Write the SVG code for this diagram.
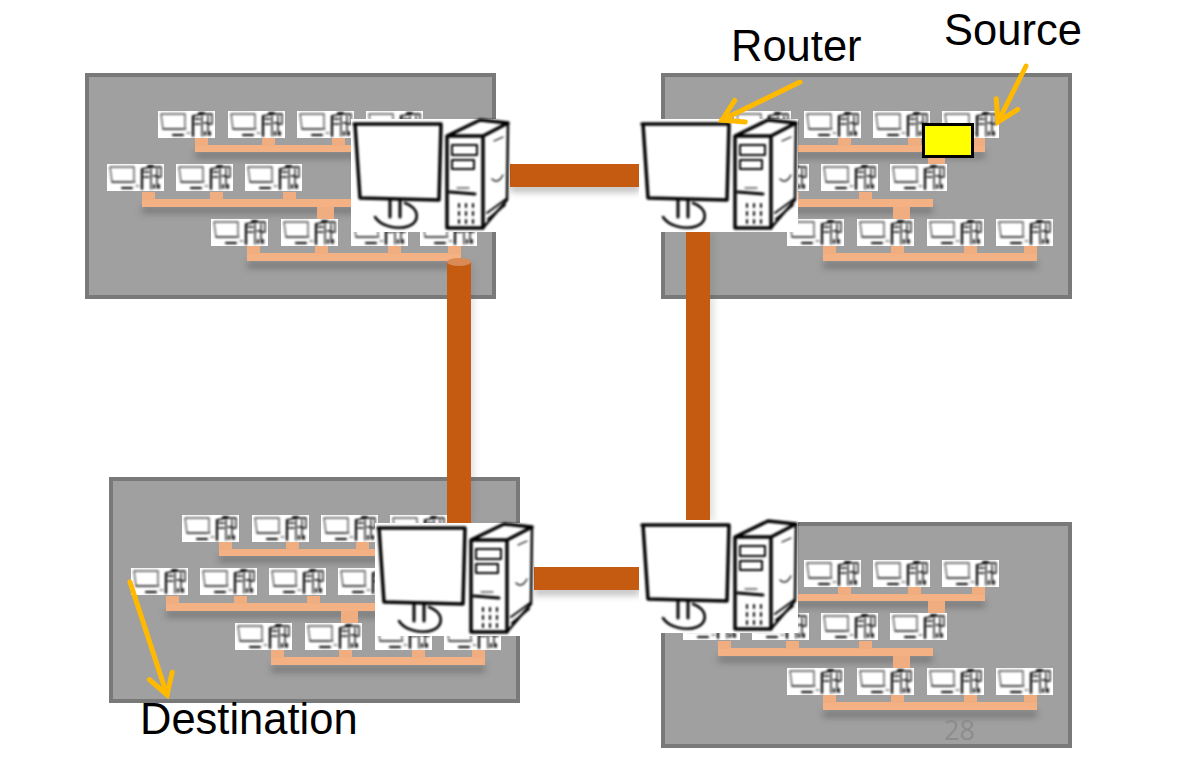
<svg xmlns="http://www.w3.org/2000/svg" xmlns:xlink="http://www.w3.org/1999/xlink" width="1178" height="778" viewBox="0 0 1178 778">
<style>
text{font-family:"Liberation Sans",Arial,sans-serif;font-size:43.500px;fill:#000}
.panel{fill:#a0a0a0;stroke:#797979;stroke-width:4}
.bar{fill:#f4b183}
.stub{fill:#f0ad80}
.trunk{fill:#c55a11}
.ink{fill:none;stroke:#000;stroke-linecap:round;stroke-linejoin:round}
.arrow{fill:none;stroke:#ffba00;stroke-width:5;stroke-linecap:round;marker-end:url(#head)}
</style>
<defs>
<filter id="shadow" x="-10%" y="-150%" width="120%" height="400%"><feGaussianBlur stdDeviation="3.500"/></filter>
<filter id="vshadow" x="-300%" y="-5%" width="700%" height="110%"><feGaussianBlur stdDeviation="4"/></filter>
<filter id="soft" x="-5%" y="-5%" width="110%" height="110%"><feGaussianBlur stdDeviation="0.800"/></filter>
<marker id="head" markerUnits="userSpaceOnUse" markerWidth="40" markerHeight="40" refX="24" refY="20" orient="auto" viewBox="0 0 40 40"><path d="M4 8L24 20L4 32" fill="none" stroke="#ffba00" stroke-width="5" stroke-linecap="round"/></marker>
<g id="pc">
<rect width="57" height="27" fill="#fff"/>
<g filter="url(#soft)">
<path class="ink" stroke-width="1.300" opacity=".7" d="M3 3H27M3 3L5 18H25M27 3V18"/>
<path class="ink" stroke-width="2.200" d="M15 24H25"/>
<path class="ink" stroke-width="1.200" opacity=".8" d="M29 22H32M5 18H28"/>
<path class="ink" stroke-width="2.200" d="M35 5V25"/>
<path class="ink" stroke-width="1.300" d="M35 5L44 3H54M44 5V25M50 5V24M54 3V13M50 13H54M46 12H49M37 8H42M37 13H42"/>
<path class="ink" stroke-width="1.800" d="M41 2H46M47 21V24M52 21V24"/>
</g>
</g>
<g id="lan-contents">
<rect x="195" y="152" width="214" height="6" fill="#444" opacity=".5" filter="url(#shadow)"/>
<rect x="142" y="207" width="215" height="6" fill="#444" opacity=".5" filter="url(#shadow)"/>
<rect x="247" y="262" width="214" height="6" fill="#444" opacity=".5" filter="url(#shadow)"/>
<rect class="bar" x="195" y="145" width="214" height="7"/>
<rect class="stub" x="195" y="138" width="13" height="8"/><rect class="stub" x="262" y="138" width="13" height="8"/><rect class="stub" x="332" y="138" width="13" height="8"/><rect class="stub" x="396" y="138" width="13" height="8"/>
<rect class="stub" x="352" y="152" width="17" height="12"/>
<rect class="bar" x="142" y="199" width="215" height="8"/>
<rect class="stub" x="142" y="192" width="13" height="8"/><rect class="stub" x="210" y="192" width="13" height="8"/><rect class="stub" x="283" y="192" width="13" height="8"/>
<rect class="stub" x="317" y="207" width="17" height="12"/>
<rect class="bar" x="247" y="253" width="214" height="8"/>
<rect class="stub" x="247" y="246" width="13" height="8"/><rect class="stub" x="315" y="246" width="13" height="8"/><rect class="stub" x="388" y="246" width="13" height="8"/><rect class="stub" x="448" y="246" width="13" height="8"/>
<use href="#pc" x="158" y="111"/><use href="#pc" x="228" y="111"/><use href="#pc" x="297" y="111"/><use href="#pc" x="366" y="111"/>
<use href="#pc" x="107" y="164"/><use href="#pc" x="176" y="164"/><use href="#pc" x="245" y="164"/>
<use href="#pc" x="211" y="219"/><use href="#pc" x="281" y="219"/><use href="#pc" x="351" y="219"/><use href="#pc" x="420" y="219"/>
</g>
<g id="router-art">
<rect width="159" height="113" fill="#fff"/>
<g filter="url(#soft)">
<path class="ink" stroke-width="3.500" d="M3 5H90M4 5L9 79L88 81M90 5L88 81"/>
<path class="ink" stroke-width="3" d="M39 82V98M49 81V98"/>
<path class="ink" stroke-width="2.600" d="M24 98C30 108 48 111 58 107C68 103 70 90 54 84"/>
<path class="ink" stroke-width="3.500" d="M96 17L129 1L157 4L132 17ZM96 17V109H132M132 17V109"/>
<path class="ink" stroke-width="2.500" d="M157 4L156 81L132 109"/>
<path class="ink" stroke-width="2" d="M101 26H126V36H101ZM101 41H123V50H101Z"/>
<path class="ink" stroke-width="3" d="M99 73L124 75"/>
<path class="ink" stroke-width="1.200" d="M106 69H118M143 22L152 18M141 60C146 65 150 60 152 56"/>
<path class="ink" stroke-width="2" d="M136 94L155 80M137 100L154 86M108 85V88M115 85V88M122 85V88M108 93V96M115 93V96M122 93V96M108 101V104M115 101V104M122 101V104"/>
</g>
</g>
</defs>
<g id="lan-top-left"><rect class="panel" x="87" y="75" width="407" height="222"/><use href="#lan-contents"/></g>
<g id="lan-top-right"><rect class="panel" x="663" y="75" width="407" height="222"/><use href="#lan-contents" x="576"/><use href="#pc" x="890" y="164"/></g>
<g id="lan-bottom-left"><rect class="panel" x="111" y="479" width="407" height="222"/><use href="#lan-contents" x="24" y="404"/><use href="#pc" x="338" y="568"/></g>
<g id="lan-bottom-right"><rect class="panel" x="663" y="524" width="407" height="222"/><use href="#lan-contents" x="576" y="449"/><use href="#pc" x="890" y="613"/></g>
<g id="connectors">
<rect x="510" y="184" width="130" height="8" fill="#555" opacity=".4" filter="url(#shadow)"/>
<rect x="534" y="587" width="106" height="8" fill="#555" opacity=".4" filter="url(#shadow)"/>
<rect x="466" y="262" width="6" height="262" fill="#555" opacity=".3" filter="url(#vshadow)"/>
<rect x="706" y="232" width="6" height="290" fill="#555" opacity=".3" filter="url(#vshadow)"/>
<rect class="trunk" x="510" y="164" width="130" height="23"/>
<rect class="trunk" x="534" y="567" width="106" height="23"/>
<rect class="trunk" x="447" y="262" width="24" height="262"/>
<ellipse cx="459" cy="262" rx="12" ry="4" fill="#d98a55"/>
<rect class="trunk" x="686" y="230" width="24" height="292"/>
</g>
<use id="router-top-left" href="#router-art" x="351" y="119"/>
<use id="router-top-right" href="#router-art" x="639" y="119"/>
<use id="router-bottom-left" href="#router-art" x="375" y="523"/>
<use id="router-bottom-right" href="#router-art" x="639" y="520"/>
<g id="source-packet"><rect x="928" y="156" width="17" height="8" fill="#f0ad80"/><rect x="923.500" y="124.500" width="49" height="32" fill="#ff0" stroke="#000" stroke-width="3"/></g>
<g id="annotations">
<path class="arrow" d="M800 82L722 120"/>
<path class="arrow" d="M1026 66L998 122"/>
<path class="arrow" d="M130 582L167 695"/>
<text x="731" y="61">Router</text>
<text x="944" y="45">Source</text>
<text x="140" y="734">Destination</text>
<text x="944" y="740" style="font-family:'Open Sans',sans-serif;font-size:27px;fill:#8c8c8c">28</text>
</g>
</svg>
